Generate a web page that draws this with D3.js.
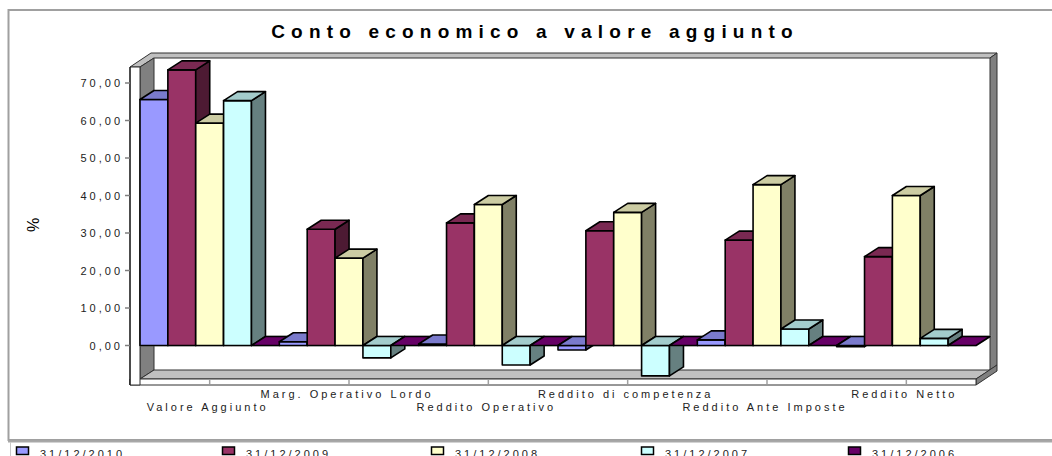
<!DOCTYPE html>
<html>
<head>
<meta charset="utf-8">
<script src="https://cdn.jsdelivr.net/npm/d3@7"></script>
<style>
  html, body { margin: 0; padding: 0; background: #fff; }
  svg { display: block; font-family: "Liberation Sans", Arial, sans-serif; }
</style>
</head>
<body>
<svg id="chart" width="1052" height="456"></svg>
<script>
// Conto economico a valore aggiunto — % values per year
const categories = ["Valore Aggiunto", "Marg. Operativo Lordo", "Reddito Operativo",
                    "Reddito di competenza", "Reddito Ante Imposte", "Reddito Netto"];
const seriesNames = ["31/12/2010", "31/12/2009", "31/12/2008", "31/12/2007", "31/12/2006"];
const values2010 = [65.6, 1.0, 0.4, -1.2, 1.5, -0.3];
const values2009 = [73.5, 31.0, 32.7, 30.6, 28.1, 23.7];
const values2008 = [59.3, 23.3, 37.6, 35.5, 42.9, 40.0];
const values2007 = [65.3, -3.3, -5.2, -8.1, 4.4, 1.9];
const values2006 = [0, 0, 0, 0, 0, 0];
const yTicks = [0, 10, 20, 30, 40, 50, 60, 70];
const seriesColors = ["#9999FF", "#993366", "#FFFFCC", "#CCFFFF", "#660066"];

const seriesValues = [values2010, values2009, values2008, values2007, values2006];

const svg = d3.select("#chart");

// layout
const DX = 14, DY = -9;          // bar / plot depth projection
const TX = 7, TY = -5;           // wall thickness projection
const plotLeft = 140, plotRight = 976;
const plotTop = 67, floorY = 379, floorBottom = 385;

const x = d3.scaleBand().domain(categories).range([plotLeft, plotRight]).paddingInner(0).paddingOuter(0);
const xs = d3.scaleBand().domain(seriesNames).range([0, x.bandwidth()]).padding(0);
const y = d3.scaleLinear().domain([0, 70]).range([345.5, 83]);

function shade(c, k) {
  const r = d3.rgb(c);
  return d3.rgb(r.r * k, r.g * k, r.b * k).formatHex();
}
const pts = a => a.map(p => p.join(",")).join(" ");

// outer frame
svg.append("rect").attr("x", 8.5).attr("y", 10).attr("width", 1060).attr("height", 430)
  .attr("fill", "none").attr("stroke", "#a0a0a0").attr("stroke-width", 2);
svg.append("line").attr("x1", 8).attr("x2", 1052).attr("y1", 441.5).attr("y2", 441.5)
  .attr("stroke", "#a8a8a8").attr("stroke-width", 2);
svg.append("line").attr("x1", 10.5).attr("x2", 10.5).attr("y1", 442).attr("y2", 456)
  .attr("stroke", "#c8c8c8").attr("stroke-width", 1);

// title
svg.append("text").attr("x", 535).attr("y", 38).attr("text-anchor", "middle")
  .attr("font-size", 19).attr("font-weight", "bold").attr("letter-spacing", 6.2)
  .attr("fill", "#000").text("Conto economico a valore aggiunto");

// y axis title
svg.append("text").attr("transform", "translate(39,225) rotate(-90)")
  .attr("text-anchor", "middle").attr("font-size", 16).attr("fill", "#000").text("%");

const walls = svg.append("g").attr("stroke", "#303030").attr("stroke-width", 1).attr("stroke-linejoin", "round");
const bx0 = plotLeft + DX, bx1 = plotRight + DX, bTop = plotTop + DY, bFloor = floorY + DY;

// back wall face
walls.append("polygon").attr("points", pts([[bx0, bTop], [bx1, bTop], [bx1, bFloor], [bx0, bFloor]]))
  .attr("fill", "#fff").attr("stroke", "none");
// top edge of left + back wall
walls.append("polygon").attr("points", pts([[130, plotTop], [plotLeft, plotTop], [bx0, bTop], [bx1, bTop],
  [bx1 + TX, bTop + TY], [130 + DX + TX, plotTop + DY + TY]])).attr("fill", "#c0c0c0");
// back wall right side
walls.append("polygon").attr("points", pts([[bx1, bTop], [bx1 + TX, bTop + TY], [bx1 + TX, bFloor + TY], [bx1, bFloor]]))
  .attr("fill", "#808080");
// left wall inner face
walls.append("polygon").attr("points", pts([[plotLeft, plotTop], [bx0, bTop], [bx0, bFloor], [plotLeft, floorY]]))
  .attr("fill", "#808080");
// floor top
walls.append("polygon").attr("points", pts([[plotLeft, floorY], [plotRight, floorY], [bx1, bFloor], [bx0, bFloor]]))
  .attr("fill", "#c0c0c0");
// floor right side
walls.append("polygon").attr("points", pts([[plotRight, floorY], [bx1 + TX, bFloor + TY], [bx1 + TX, bFloor + TY + 6], [plotRight, floorBottom]]))
  .attr("fill", "#808080");
// floor front
walls.append("rect").attr("x", 130).attr("y", floorY).attr("width", plotRight - 130).attr("height", floorBottom - floorY)
  .attr("fill", "#fff");
// left wall front
walls.append("rect").attr("x", 130).attr("y", plotTop).attr("width", plotLeft - 130).attr("height", floorBottom - plotTop)
  .attr("fill", "#fff");

// category ticks on the floor front
svg.append("g").selectAll("line").data(categories).join("line")
  .attr("x1", d => x(d) + x.bandwidth() / 2).attr("x2", d => x(d) + x.bandwidth() / 2)
  .attr("y1", floorY + 1).attr("y2", floorBottom - 1)
  .attr("stroke", "#a0a0a0").attr("stroke-width", 1.5);

// zero plane outline
const y0 = y(0);
svg.append("polyline").attr("points", pts([[plotLeft, y0], [plotRight, y0], [bx1, y0 + DY], [bx0, y0 + DY]]))
  .attr("fill", "none").attr("stroke", "#909090").attr("stroke-width", 1.5);

// bars, drawn left to right so each box hides the previous side face
const bars = svg.append("g").attr("stroke", "#000").attr("stroke-width", 1.6).attr("stroke-linejoin", "round");
categories.forEach((cat, ci) => {
  seriesNames.forEach((s, si) => {
    const v = seriesValues[si][ci];
    const c = seriesColors[si];
    const xa = x(cat) + xs(s), xb = xa + xs.bandwidth();
    const yt = y(Math.max(v, 0)), yb = y(Math.min(v, 0));
    const g = bars.append("g");
    if (yb - yt > 0.01) {
      g.append("polygon").attr("points", pts([[xa, yt], [xb, yt], [xb, yb], [xa, yb]])).attr("fill", c);
      g.append("polygon").attr("points", pts([[xb, yt], [xb + DX, yt + DY], [xb + DX, yb + DY], [xb, yb]]))
        .attr("fill", shade(c, 0.5));
    }
    g.append("polygon").attr("points", pts([[xa, yt], [xb, yt], [xb + DX, yt + DY], [xa + DX, yt + DY]]))
      .attr("fill", si === 4 ? c : shade(c, 0.8));
  });
});

// y axis
const ax = svg.append("g");
ax.append("line").attr("x1", 130).attr("x2", 130).attr("y1", plotTop).attr("y2", floorBottom)
  .attr("stroke", "#000").attr("stroke-width", 1);
ax.selectAll("line.t").data(yTicks).join("line").attr("class", "t")
  .attr("x1", 125).attr("x2", 130).attr("y1", d => y(d)).attr("y2", d => y(d))
  .attr("stroke", "#808080").attr("stroke-width", 1.5);
ax.selectAll("text").data(yTicks).join("text")
  .attr("x", 123).attr("y", d => y(d) + 4).attr("text-anchor", "end")
  .attr("font-size", 11).attr("letter-spacing", 3).attr("fill", "#222")
  .text(d => d.toFixed(2).replace(".", ","));

// category labels, staggered on two rows
svg.append("g").selectAll("text").data(categories).join("text")
  .attr("x", d => x(d) + x.bandwidth() / 2 - 2)
  .attr("y", (d, i) => i % 2 === 0 ? 411 : 398)
  .attr("text-anchor", "middle").attr("font-size", 11).attr("letter-spacing", 3).attr("fill", "#222")
  .text(d => d);

// legend
const legendX = [16, 222, 431, 641, 848];
const lg = svg.append("g").selectAll("g").data(seriesNames).join("g")
  .attr("transform", (d, i) => `translate(${legendX[i]},447)`);
lg.append("rect").attr("width", 12).attr("height", 7.5).attr("x", 0.5).attr("y", 0)
  .attr("fill", (d, i) => seriesColors[i]).attr("stroke", "#000").attr("stroke-width", 1.5);
lg.append("text").attr("x", 24).attr("y", 11).attr("font-size", 11).attr("letter-spacing", 3)
  .attr("fill", "#222").text(d => d);
</script>
</body>
</html>
